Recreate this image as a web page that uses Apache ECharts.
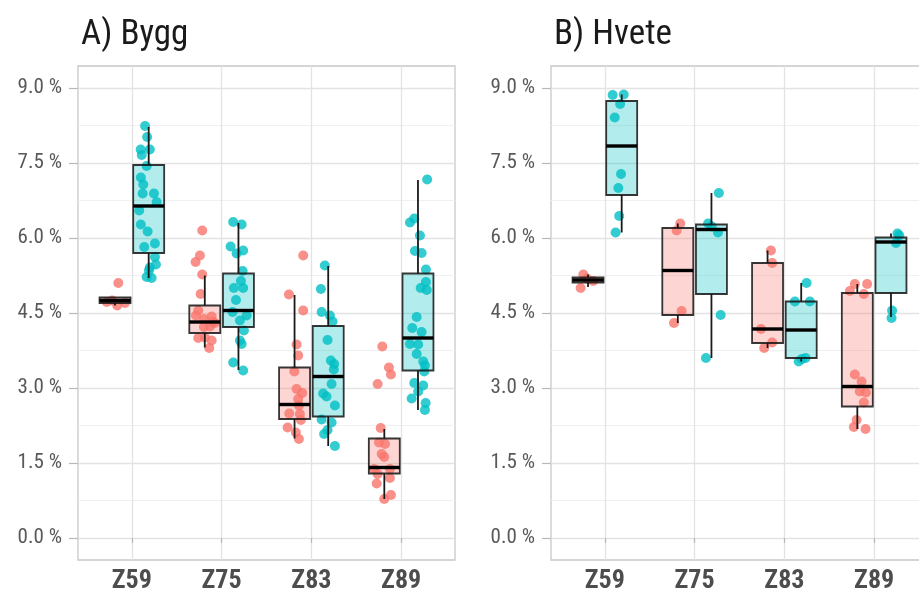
<!DOCTYPE html>
<html>
<head>
<meta charset="utf-8">
<script src="https://cdn.jsdelivr.net/npm/echarts@6/dist/echarts.min.js"></script>
<style>
  html, body { margin: 0; padding: 0; background: #ffffff; }
  #chart { width: 919px; height: 593px; }
</style>
</head>
<body>
<div id="chart"></div>
<script>
// Growth stages on the x axis
const categories = ['Z59', 'Z75', 'Z83', 'Z89'];
const panelTitles = ['A) Bygg', 'B) Hvete'];
const yTicks = [0, 1.5, 3, 4.5, 6, 7.5, 9];
const yMinorTicks = [0.75, 2.25, 3.75, 5.25, 6.75, 8.25];

// Box statistics per stage: [lower whisker, Q1, median, Q3, upper whisker] (%)
const byggRedBox = [
  [4.65, 4.70, 4.75, 4.81, 4.81],
  [3.81, 4.10, 4.32, 4.65, 5.25],
  [1.99, 2.38, 2.67, 3.41, 4.86],
  [0.78, 1.29, 1.41, 1.99, 2.18]
];
const byggTealBox = [
  [5.20, 5.70, 6.64, 7.46, 8.22],
  [3.36, 4.22, 4.55, 5.29, 6.30],
  [1.84, 2.43, 3.23, 4.24, 5.44],
  [2.56, 3.35, 4.00, 5.29, 7.16]
];
const hveteRedBox = [
  [5.02, 5.11, 5.16, 5.21, 5.27],
  [4.30, 4.46, 5.35, 6.20, 6.29],
  [3.80, 3.90, 4.18, 5.50, 5.75],
  [2.18, 2.63, 3.03, 4.90, 5.08]
];
const hveteTealBox = [
  [6.11, 6.86, 7.84, 8.74, 8.87],
  [3.60, 4.88, 6.17, 6.27, 6.90],
  [3.53, 3.60, 4.16, 4.73, 5.10],
  [4.42, 4.90, 5.92, 6.01, 6.09]
];

// Individual observations (%) per stage, with their horizontal jitter (category units)
const byggRedValues = [
  [5.10, 4.72, 4.65, 4.75, 4.70],
  [6.15, 5.65, 5.52, 5.27, 4.88, 4.55, 4.43, 4.38, 4.30, 4.22, 4.23, 4.00, 3.95, 3.80, 4.01, 4.45, 4.32],
  [5.65, 4.87, 4.55, 3.87, 3.65, 3.33, 2.98, 2.90, 2.78, 2.65, 2.49, 2.48, 2.36, 2.21, 2.11, 1.98],
  [3.83, 3.41, 3.27, 3.08, 2.20, 1.91, 1.88, 1.68, 1.62, 1.38, 1.28, 1.38, 1.20, 1.09, 0.86, 0.78]
];
const byggRedJitter = [
  [-0.151, -0.28, -0.163, -0.22, -0.077],
  [-0.216, -0.242, -0.29, -0.216, -0.234, -0.26, -0.111, -0.197, -0.075, -0.197, -0.13, -0.26, -0.111, -0.138, -0.186, -0.286, -0.097],
  [-0.091, -0.25, -0.091, -0.165, -0.147, -0.19, -0.165, -0.102, -0.147, -0.139, -0.247, -0.128, -0.117, -0.265, -0.173, -0.139],
  [-0.21, -0.136, -0.114, -0.262, -0.228, -0.247, -0.18, -0.217, -0.188, -0.3, -0.262, -0.125, -0.125, -0.273, -0.114, -0.188]
];
const byggTealValues = [
  [8.24, 8.02, 7.77, 7.77, 7.66, 7.44, 7.21, 7.07, 6.89, 6.89, 6.72, 6.55, 6.27, 6.13, 5.89, 5.82, 5.62, 5.47, 5.41, 5.35, 5.22, 5.20],
  [6.32, 6.27, 5.83, 5.75, 5.69, 5.34, 5.14, 5.00, 5.00, 4.76, 4.52, 4.45, 4.35, 4.15, 3.95, 3.88, 3.51, 3.35],
  [5.45, 4.98, 4.52, 4.45, 4.33, 3.96, 3.55, 3.48, 3.37, 3.08, 2.89, 2.83, 2.65, 2.37, 2.31, 2.16, 2.08, 1.84],
  [7.17, 6.39, 6.31, 6.05, 5.74, 5.70, 5.37, 5.12, 5.00, 4.96, 4.42, 4.20, 4.12, 3.88, 3.87, 3.68, 3.53, 3.45, 3.33, 3.10, 3.05, 2.93, 2.79, 2.70, 2.56]
];
const byggTealJitter = [
  [0.147, 0.17, 0.098, 0.20, 0.11, 0.165, 0.10, 0.127, 0.12, 0.246, 0.276, 0.082, 0.10, 0.176, 0.257, 0.138, 0.257, 0.268, 0.20, 0.19, 0.165, 0.22],
  [0.129, 0.223, 0.10, 0.24, 0.167, 0.234, 0.215, 0.137, 0.24, 0.16, 0.122, 0.278, 0.204, 0.248, 0.204, 0.223, 0.129, 0.24],
  [0.15, 0.106, 0.114, 0.206, 0.236, 0.18, 0.217, 0.254, 0.25, 0.225, 0.131, 0.169, 0.262, 0.114, 0.225, 0.18, 0.142, 0.262],
  [0.29, 0.146, 0.098, 0.209, 0.154, 0.228, 0.276, 0.276, 0.218, 0.285, 0.173, 0.124, 0.228, 0.098, 0.19, 0.173, 0.246, 0.265, 0.257, 0.146, 0.246, 0.19, 0.117, 0.273, 0.265]
];
const hveteRedValues = [
  [5.27, 5.19, 5.14, 5.00],
  [6.29, 6.15, 4.54, 4.30],
  [5.75, 5.50, 4.18, 3.80, 3.91],
  [5.08, 5.08, 4.94, 4.88, 3.27, 3.13, 2.93, 2.91, 2.71, 2.36, 2.22, 2.18]
];
const hveteRedJitter = [
  [-0.24, -0.20, -0.13, -0.27],
  [-0.16, -0.20, -0.145, -0.23],
  [-0.15, -0.136, -0.26, -0.225, -0.136],
  [-0.215, -0.078, -0.27, -0.115, -0.215, -0.14, -0.16, -0.092, -0.115, -0.196, -0.226, -0.096]
];
const hveteTealValues = [
  [8.86, 8.87, 8.68, 8.41, 7.28, 7.00, 6.44, 6.11],
  [6.90, 6.29, 6.11, 4.46, 3.60, 6.23],
  [5.10, 4.73, 4.73, 3.53, 3.60, 3.58],
  [6.09, 6.05, 5.90, 4.55, 4.40]
];
const hveteTealJitter = [
  [0.087, 0.21, 0.17, 0.11, 0.18, 0.15, 0.16, 0.12],
  [0.27, 0.15, 0.26, 0.29, 0.126, 0.19],
  [0.247, 0.117, 0.284, 0.16, 0.236, 0.195],
  [0.26, 0.28, 0.243, 0.20, 0.194]
];

const RED = '#F8766D';
const TEAL = '#00BFC4';
const RED_FILL = 'rgba(248,118,109,0.3)';
const TEAL_FILL = 'rgba(0,191,196,0.3)';
const DODGE = 0.1875;
const BOX_W = 0.345;
const FONT = "'Roboto Condensed','Liberation Sans Narrow','DejaVu Sans Condensed',Roboto,sans-serif";

function pointData(values, jitter) {
  const out = [];
  values.forEach((arr, i) => {
    arr.forEach((v, j) => out.push([i + 1 + jitter[i][j], v]));
  });
  return out;
}

function boxData(stats, dodge) {
  return stats.map((s, i) => [i + 1 + dodge].concat(s));
}

function renderBox(fill) {
  return function (params, api) {
    const x = api.value(0);
    const lo = api.coord([x, api.value(1)]);
    const q1 = api.coord([x, api.value(2)]);
    const md = api.coord([x, api.value(3)]);
    const q3 = api.coord([x, api.value(4)]);
    const hi = api.coord([x, api.value(5)]);
    const hw = api.size([BOX_W, 0])[0] / 2;
    const cx = md[0];
    return {
      type: 'group',
      children: [
        { type: 'line', shape: { x1: cx, y1: lo[1], x2: cx, y2: q1[1] },
          style: { stroke: '#1a1a1a', lineWidth: 1.8 } },
        { type: 'line', shape: { x1: cx, y1: q3[1], x2: cx, y2: hi[1] },
          style: { stroke: '#1a1a1a', lineWidth: 1.8 } },
        { type: 'rect', shape: { x: cx - hw, y: q3[1], width: 2 * hw, height: q1[1] - q3[1] },
          style: { fill: fill, stroke: 'rgba(20,20,20,0.85)', lineWidth: 1.8 } },
        { type: 'line', shape: { x1: cx - hw, y1: md[1], x2: cx + hw, y2: md[1] },
          style: { stroke: '#000000', lineWidth: 3.4 } }
      ]
    };
  };
}

const grids = [
  { left: 78, top: 66, width: 377, height: 494 },
  { left: 551, top: 66, width: 377, height: 494 }
];

const xAxes = [], yAxes = [];
grids.forEach((g, gi) => {
  xAxes.push({
    type: 'value', gridIndex: gi, min: 0.4, max: 4.6,
    axisLine: { show: false },
    axisTick: { show: true, customValues: [1, 2, 3, 4], length: 5, lineStyle: { color: '#b8b8b8', width: 1.2 } },
    axisLabel: {
      customValues: [1, 2, 3, 4], margin: 8,
      formatter: v => categories[Math.round(v) - 1],
      fontFamily: FONT, fontSize: 26, fontWeight: 'bold', color: '#4d4d4d'
    },
    splitLine: { show: true, lineStyle: { color: '#e3e3e3', width: 1.3 } }
  });
  yAxes.push({
    type: 'value', gridIndex: gi, min: -0.44, max: 9.44,
    axisLine: { show: false },
    axisTick: { show: true, customValues: yTicks, length: 9, lineStyle: { color: '#b8b8b8', width: 1.2 } },
    axisLabel: {
      customValues: yTicks, margin: 16,
      formatter: v => v.toFixed(1) + ' %',
      fontFamily: FONT, fontSize: 21, color: '#595959'
    },
    splitLine: { show: true, lineStyle: { color: '#e3e3e3', width: 1.3 } }
  });
  yAxes.push({
    type: 'value', gridIndex: gi, min: -0.44, max: 9.44,
    axisLine: { show: false },
    axisTick: { show: false, customValues: yMinorTicks },
    axisLabel: { show: false, customValues: yMinorTicks },
    splitLine: { show: true, lineStyle: { color: '#f0f0f0', width: 1 } }
  });
});

const panels = [
  { red: byggRedValues, redJ: byggRedJitter, teal: byggTealValues, tealJ: byggTealJitter, redBox: byggRedBox, tealBox: byggTealBox },
  { red: hveteRedValues, redJ: hveteRedJitter, teal: hveteTealValues, tealJ: hveteTealJitter, redBox: hveteRedBox, tealBox: hveteTealBox }
];

const series = [];
panels.forEach((p, gi) => {
  const yIdx = gi * 2;
  series.push({
    type: 'scatter', xAxisIndex: gi, yAxisIndex: yIdx, z: 2,
    symbolSize: 10, itemStyle: { color: RED, opacity: 0.8 },
    data: pointData(p.red, p.redJ), silent: true
  });
  series.push({
    type: 'scatter', xAxisIndex: gi, yAxisIndex: yIdx, z: 2,
    symbolSize: 10, itemStyle: { color: TEAL, opacity: 0.8 },
    data: pointData(p.teal, p.tealJ), silent: true
  });
  series.push({
    type: 'custom', xAxisIndex: gi, yAxisIndex: yIdx, z: 3,
    renderItem: renderBox(RED_FILL),
    encode: { x: 0, y: [1, 2, 3, 4, 5] },
    data: boxData(p.redBox, -DODGE), silent: true
  });
  series.push({
    type: 'custom', xAxisIndex: gi, yAxisIndex: yIdx, z: 3,
    renderItem: renderBox(TEAL_FILL),
    encode: { x: 0, y: [1, 2, 3, 4, 5] },
    data: boxData(p.tealBox, DODGE), silent: true
  });
});

const chart = echarts.init(document.getElementById('chart'), null, { renderer: 'canvas' });
chart.setOption({
  animation: false,
  backgroundColor: '#ffffff',
  title: panelTitles.map((t, i) => ({
    text: t, left: grids[i].left - 2, top: 13,
    textStyle: { fontFamily: FONT, fontSize: 35, fontWeight: 'normal', color: '#1a1a1a' }
  })),
  grid: grids.map(g => Object.assign({
    show: true, borderColor: '#c8c8c8', borderWidth: 1.3, backgroundColor: 'transparent',
    containLabel: false, outerBoundsMode: 'none'
  }, g)),
  xAxis: xAxes,
  yAxis: yAxes,
  series: series
});
</script>
</body>
</html>
